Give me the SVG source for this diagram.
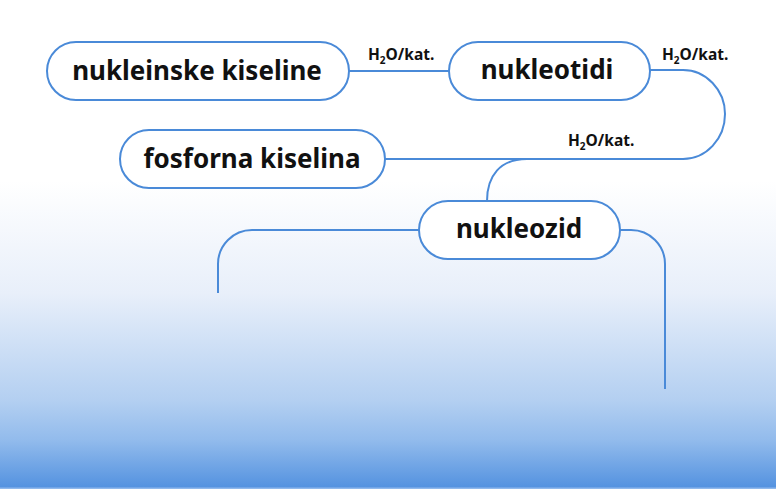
<svg xmlns="http://www.w3.org/2000/svg" width="776" height="489" viewBox="0 0 776 489">
<defs>
<linearGradient id="bg" x1="0" y1="0" x2="0" y2="489" gradientUnits="userSpaceOnUse">
<stop offset="0" stop-color="#ffffff"/>
<stop offset="0.37" stop-color="#ffffff"/>
<stop offset="0.6" stop-color="#e8effa"/>
<stop offset="0.82" stop-color="#b3cff1"/>
<stop offset="0.9" stop-color="#92bbec"/>
<stop offset="0.995" stop-color="#5593e0"/>
<stop offset="1" stop-color="#9fc2ef"/>
</linearGradient>
<style>
.node{fill:#ffffff;stroke:#4a8ad8;stroke-width:2}
.edge{fill:none;stroke:#4a8ad8;stroke-width:2}
.t{font-family:"Noto Sans","Open Sans",sans-serif;font-weight:bold;font-size:26px;fill:#111111;text-anchor:middle}
.l{font-family:"Noto Sans","Open Sans",sans-serif;font-weight:bold;font-size:15.5px;fill:#111111}
.s{font-size:10px}
</style>
</defs>
<rect x="0" y="0" width="776" height="489" fill="url(#bg)"/>
<g id="connectors">
<path class="edge" d="M349,71 H449"/>
<path class="edge" d="M650,70 H683 C706,70 725,90 725,114 C725,139 706,159 683,159 H385"/>
<path class="edge" d="M527,159 C500,159 487,176 487,201"/>
<path class="edge" d="M419,230 H252 A34,34 0 0 0 218,264 V293"/>
<path class="edge" d="M620,230 H631 A34,34 0 0 1 665,264 V389"/>
<text class="l" x="368" y="60">H<tspan class="s" dy="4">2</tspan><tspan dy="-4">O/kat.</tspan></text>
<text class="l" x="662" y="60">H<tspan class="s" dy="4">2</tspan><tspan dy="-4">O/kat.</tspan></text>
<text class="l" x="568" y="146">H<tspan class="s" dy="4">2</tspan><tspan dy="-4">O/kat.</tspan></text>
</g>
<g id="node-nukleinske">
<rect class="node" x="47" y="42" width="302" height="58" rx="29"/>
<text class="t" x="197" y="80">nukleinske kiseline</text>
</g>
<g id="node-nukleotidi">
<rect class="node" x="449" y="42" width="201" height="58" rx="29"/>
<text class="t" x="547" y="79">nukleotidi</text>
</g>
<g id="node-fosforna">
<rect class="node" x="120" y="130" width="265" height="58" rx="29"/>
<text class="t" x="252" y="168">fosforna kiselina</text>
</g>
<g id="node-nukleozid">
<rect class="node" x="419" y="201" width="201" height="58" rx="29"/>
<text class="t" x="519" y="238">nukleozid</text>
</g>
</svg>
